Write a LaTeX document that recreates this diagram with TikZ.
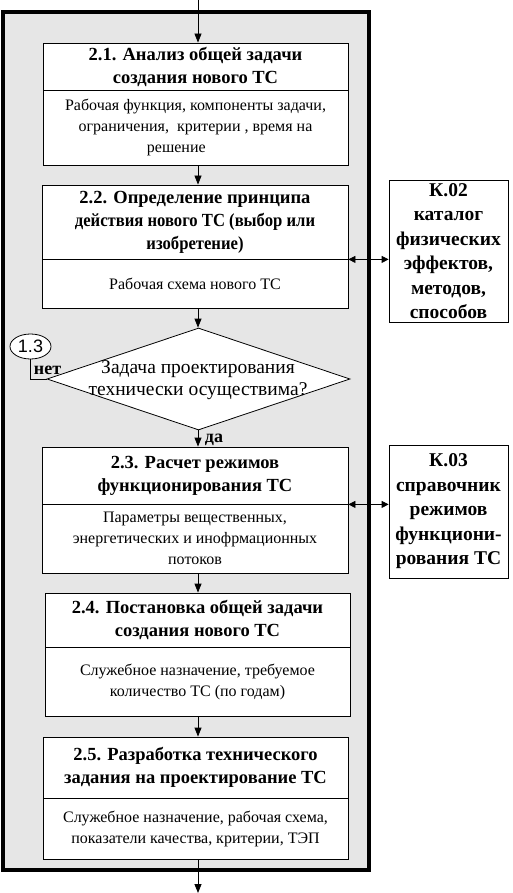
\documentclass[tikz,border=0pt]{standalone}
\usepackage{fontspec}
\setmainfont{Liberation Serif}
\newfontfamily\arialfont{Liberation Sans}
\usetikzlibrary{arrows.meta,shapes.geometric,calc}
\definecolor{framegray}{RGB}{230,230,230}
\tikzset{
  titlebox/.style={draw, line width=0.8pt, fill=white, inner sep=0pt, minimum width=305pt, align=center, font=\fontsize{18.5}{23}\selectfont\bfseries},
  bodybox/.style={draw, line width=0.8pt, fill=white, inner sep=0pt, minimum width=305pt, align=center, font=\fontsize{16}{21}\selectfont},
  kbox/.style={draw, line width=0.8pt, fill=white, inner sep=0pt, minimum width=119pt, align=center, font=\fontsize{19.5}{24.5}\selectfont\bfseries},
  arr/.style={line width=0.8pt, -{Triangle[length=9pt,width=7pt]}},
  darr/.style={line width=0.8pt, {Triangle[length=7pt,width=7pt]}-{Triangle[length=7pt,width=7pt]}},
  lbl/.style={inner sep=0pt, font=\fontsize{18}{20}\selectfont\bfseries}
}
\begin{document}
\begin{tikzpicture}[x=1pt,y=-1pt]
\useasboundingbox (0,0) rectangle (513,893);
% frame
\node[draw, line width=4pt, fill=framegray, inner sep=0pt, minimum width=366pt, minimum height=858pt] (frame) at (186,441) {};
\coordinate (ax) at (198,0);
\coordinate (top) at (198,0);
\coordinate (bot) at (198,893);
% box 2.1
\node[titlebox, minimum height=47pt] (t1) at (195.5,66.5) {2.1. Анализ общей задачи\\создания нового ТС};
\node[bodybox, minimum height=75pt] (b1) at (195.5,127.5) {Рабочая функция, компоненты задачи,\\ограничения,\ \ критерии , время на\\решение\hspace*{2.4em}};
% box 2.2
\node[titlebox, minimum width=306pt, minimum height=74pt] (t2) at (195,222) {2.2. Определение принципа\\\scalebox{0.9}[1]{действия нового ТС (выбор или}\\\scalebox{0.9}[1]{изобретение)}};
\node[bodybox, minimum width=306pt, minimum height=49pt] (b2) at (195,283.5) {Рабочая схема нового ТС};
% diamond
\node[diamond, draw, line width=0.8pt, fill=white, inner sep=0pt, minimum width=303pt, minimum height=102pt] (dia) at (198.5,379) {};
\node[inner sep=0pt, align=center, font=\fontsize{19.5}{22}\selectfont] (diat) at (198,380) {Задача проектирования\\технически осуществима?};
% box 2.3
\node[titlebox, minimum width=306pt, minimum height=57pt] (t3) at (195,475.5) {2.3. Расчет режимов\\функционирования ТС};
\node[bodybox, minimum width=306pt, minimum height=69pt] (b3) at (195,538.5) {Параметры вещественных,\\энергетических и инофрмационных\\потоков};
% box 2.4
\node[titlebox, minimum height=54pt] (t4) at (197.5,620) {2.4. Постановка общей задачи\\создания нового ТС};
\node[bodybox, minimum height=69pt] (b4) at (197.5,681.5) {Служебное назначение, требуемое\\количество ТС (по годам)};
% box 2.5
\node[titlebox, minimum height=61pt] (t5) at (195.5,767.5) {2.5. Разработка технического\\задания на проектирование ТС};
\node[bodybox, minimum height=61pt] (b5) at (195.5,828.5) {Служебное назначение, рабочая схема,\\показатели качества, критерии, ТЭП};
% K boxes
\node[kbox, minimum height=142pt] (k2) at (448.5,251) {К.02\\каталог\\физических\\эффектов,\\методов,\\способов};
\node[kbox, minimum height=133pt] (k3) at (448.5,511.5) {К.03\\справочник\\режимов\\функциони-\\рования ТС};
% ellipse 1.3
\node[ellipse, draw, line width=0.8pt, fill=white, inner sep=0pt, minimum width=41pt, minimum height=25pt, font=\arialfont\fontsize{18}{20}\selectfont] (e13) at (30.5,346.5) {1.3};
% labels
\node[lbl] (net) at (47.5,370) {нет};
\node[lbl] (da) at (214,440) {да};
% arrows
\draw[arr] (top) -- (t1.north -| ax);
\draw[arr] (b1.south -| ax) -- (t2.north -| ax);
\draw[arr] (b2.south -| ax) -- (dia.north -| ax);
\draw[arr] (dia.south -| ax) -- (t3.north -| ax);
\draw[arr] (b3.south -| ax) -- (t4.north -| ax);
\draw[arr] (b4.south -| ax) -- (t5.north -| ax);
\draw[arr] (b5.south -| ax) -- (bot);
\draw[line width=0.8pt] (e13.south) |- (dia.west);
\draw[darr] (t2.south east) -- (t2.south east -| k2.west);
\draw[darr] (t3.south east) -- (t3.south east -| k3.west);
\end{tikzpicture}
\end{document}
